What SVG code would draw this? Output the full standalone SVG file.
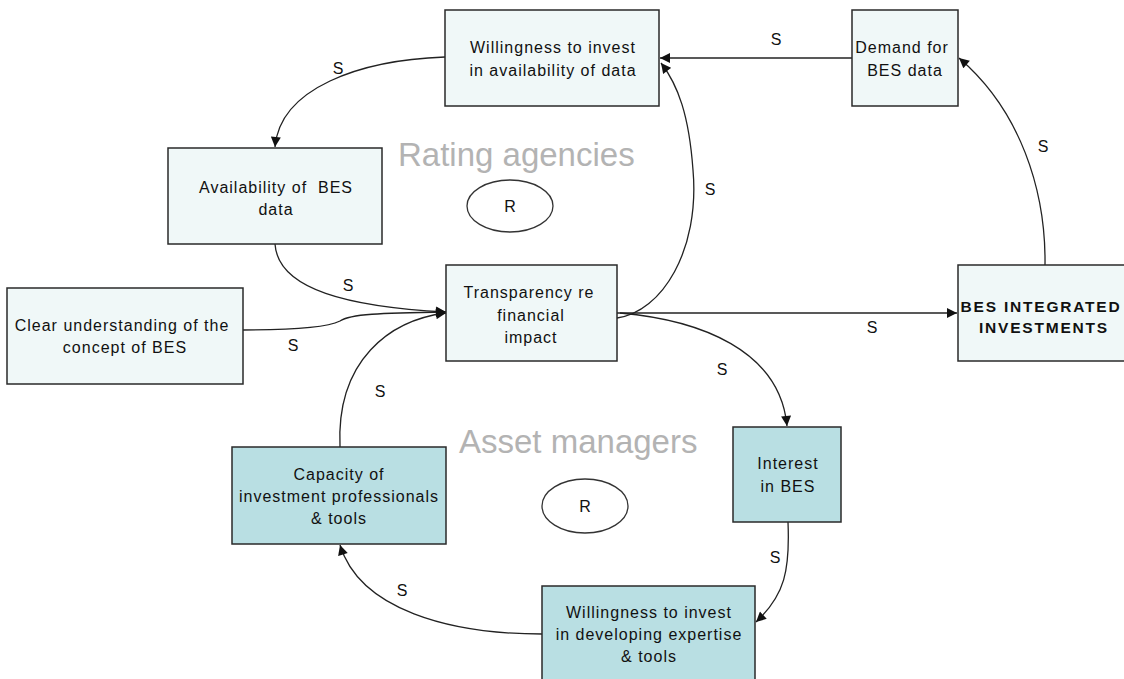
<svg xmlns="http://www.w3.org/2000/svg" width="1124" height="679" viewBox="0 0 1124 679">
  <style>
    .box { stroke: #2a2a2a; stroke-width: 1.5; }
    .light { fill: #f0f8f8; }
    .dark { fill: #b9dfe3; }
    .lbl { font-family: "Liberation Sans", Arial, sans-serif; font-size: 16px; fill: #111; letter-spacing: 1px; text-anchor: middle; }
    .bold { font-weight: bold; font-size: 15.5px; letter-spacing: 1.8px; }
    .s { font-family: "Liberation Sans", Arial, sans-serif; font-size: 16px; fill: #111; text-anchor: middle; }
    .loop { font-family: "Liberation Sans", Arial, sans-serif; font-size: 33px; fill: #b3b3b3; }
    .link { fill: none; stroke: #222; stroke-width: 1.3; marker-end: url(#arrow); }
    .ell { fill: none; stroke: #333; stroke-width: 1.3; }
  </style>
  <defs>
    <marker id="arrow" viewBox="0 0 10 10" refX="10" refY="5" markerWidth="11" markerHeight="10" markerUnits="userSpaceOnUse" orient="auto">
      <path d="M0,0 L10,5 L0,10 z" fill="#111"/>
    </marker>
  </defs>

  <rect width="1124" height="679" fill="#ffffff"/>

  <!-- loop titles and R markers -->
  <g id="loop-rating">
    <text class="loop" x="398" y="166">Rating agencies</text>
    <ellipse class="ell" cx="510" cy="206" rx="43" ry="26"/>
    <text class="s" x="510" y="212">R</text>
  </g>
  <g id="loop-asset">
    <text class="loop" x="459" y="453">Asset managers</text>
    <ellipse class="ell" cx="585" cy="506" rx="43" ry="27"/>
    <text class="s" x="585" y="512">R</text>
  </g>

  <!-- connectors -->
  <g id="connectors">
    <path class="link" d="M445,57 C360,60 280,88 275,147"/>
    <text class="s" x="338" y="74">S</text>

    <path class="link" d="M852,58 L660,58"/>
    <text class="s" x="776" y="45">S</text>

    <path class="link" d="M617,318 C662,312 700,250 693,170 C689,115 678,85 661,63"/>
    <text class="s" x="710" y="195">S</text>

    <path class="link" d="M1045,265 C1046,190 1020,110 959,58"/>
    <text class="s" x="1043" y="152">S</text>

    <path class="link" d="M617,313 L957,313"/>
    <text class="s" x="872" y="333">S</text>

    <path class="link" d="M275,244 C278,290 350,307 446,312"/>
    <text class="s" x="348" y="291">S</text>

    <path class="link" d="M243,330 C300,330 330,326 340,321 C350,314 380,313 446,312"/>
    <text class="s" x="293" y="351">S</text>

    <path class="link" d="M340,447 C336,360 390,320 446,313"/>
    <text class="s" x="380" y="397">S</text>

    <path class="link" d="M620,313 C700,320 780,350 787,426"/>
    <text class="s" x="722" y="375">S</text>

    <path class="link" d="M788,522 C790,570 785,595 756,622"/>
    <text class="s" x="775" y="563">S</text>

    <path class="link" d="M542,634 C450,634 360,610 340,545"/>
    <text class="s" x="402" y="596">S</text>
  </g>

  <!-- nodes -->
  <g id="willingness-data">
    <rect class="box light" x="445" y="10" width="214" height="96"/>
    <text class="lbl" x="553" y="53">Willingness to invest</text>
    <text class="lbl" x="553" y="76">in availability of data</text>
  </g>
  <g id="demand-data">
    <rect class="box light" x="852" y="10" width="106" height="96"/>
    <text class="lbl" x="902" y="53">Demand for</text>
    <text class="lbl" x="905" y="76">BES data</text>
  </g>
  <g id="availability-data">
    <rect class="box light" x="168" y="148" width="214" height="96"/>
    <text class="lbl" x="276" y="193" xml:space="preserve">Availability of  BES</text>
    <text class="lbl" x="276" y="215">data</text>
  </g>
  <g id="clear-understanding">
    <rect class="box light" x="7" y="288" width="236" height="96"/>
    <text class="lbl" x="122" y="331">Clear understanding of the</text>
    <text class="lbl" x="125" y="353">concept of BES</text>
  </g>
  <g id="transparency">
    <rect class="box light" x="446" y="265" width="171" height="96"/>
    <text class="lbl" x="529" y="298">Transparency re</text>
    <text class="lbl" x="531" y="321">financial</text>
    <text class="lbl" x="531" y="343">impact</text>
  </g>
  <g id="bes-integrated">
    <rect class="box light" x="958" y="265" width="220" height="96"/>
    <text class="lbl bold" x="1041" y="312">BES INTEGRATED</text>
    <text class="lbl bold" x="1044" y="333">INVESTMENTS</text>
  </g>
  <g id="capacity">
    <rect class="box dark" x="232" y="447" width="214" height="97"/>
    <text class="lbl" x="339" y="480">Capacity of</text>
    <text class="lbl" x="339" y="502">investment professionals</text>
    <text class="lbl" x="339" y="524">&amp; tools</text>
  </g>
  <g id="interest">
    <rect class="box dark" x="733" y="427" width="108" height="95"/>
    <text class="lbl" x="788" y="469">Interest</text>
    <text class="lbl" x="788" y="492">in BES</text>
  </g>
  <g id="willingness-expertise">
    <rect class="box dark" x="542" y="586" width="213" height="100"/>
    <text class="lbl" x="649" y="618">Willingness to invest</text>
    <text class="lbl" x="649" y="640">in developing expertise</text>
    <text class="lbl" x="649" y="662">&amp; tools</text>
  </g>
</svg>
